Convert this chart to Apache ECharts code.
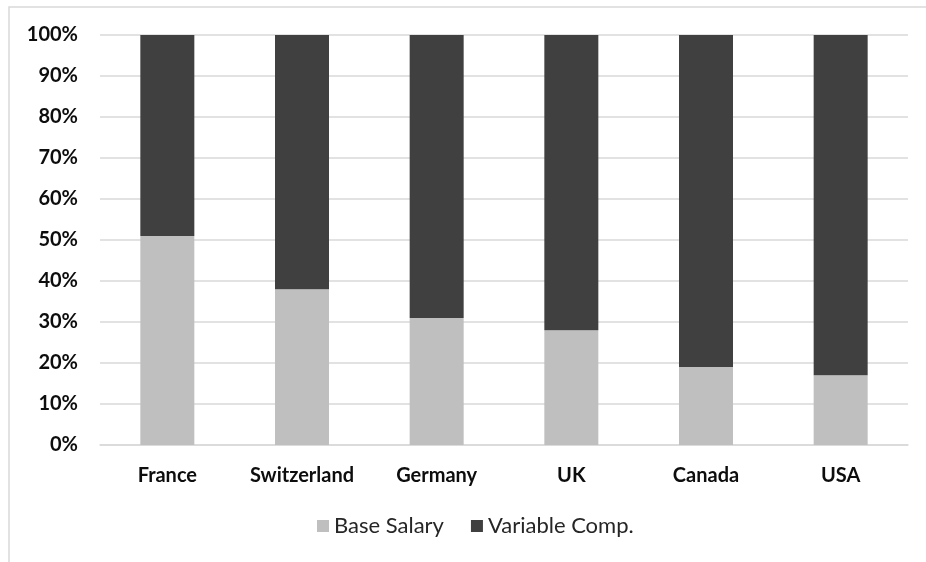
<!DOCTYPE html>
<html>
<head>
<meta charset="utf-8">
<script src="https://cdn.jsdelivr.net/npm/echarts@6/dist/echarts.min.js"></script>
<style>
  html, body { margin: 0; padding: 0; background: #ffffff; }
  #chart { width: 926px; height: 562px; }
</style>
</head>
<body>
<div id="chart"></div>
<script>
// Share of total compensation by country (percent)
const countries = ['France', 'Switzerland', 'Germany', 'UK', 'Canada', 'USA'];
const baseSalary = [51, 38, 31, 28, 19, 17];
const variableComp = [49, 62, 69, 72, 81, 83];
const yTicks = { min: 0, max: 100, step: 10 };

const FONT = 'Lato, "Open Sans", "DejaVu Sans", sans-serif';

const chart = echarts.init(document.getElementById('chart'));
chart.setOption({
  backgroundColor: '#ffffff',
  animation: false,
  graphic: [{
    type: 'rect',
    shape: { x: 9, y: 7, width: 960, height: 600 },
    style: { fill: 'none', stroke: '#d9d9d9', lineWidth: 1.5 },
    silent: true
  }],
  grid: { left: 100, right: 18, top: 35, bottom: 117, containLabel: false },
  legend: {
    data: ['Base Salary', 'Variable Comp.'],
    bottom: 20,
    left: 312,
    itemWidth: 12,
    itemHeight: 12,
    itemGap: 27,
    icon: 'rect',
    textStyle: { fontFamily: FONT, fontSize: 22, color: '#262626' }
  },
  xAxis: {
    type: 'category',
    data: countries,
    axisTick: { show: false },
    axisLine: { show: true, lineStyle: { color: '#d9d9d9', width: 1.5 } },
    axisLabel: {
      interval: 0,
      fontFamily: FONT, fontSize: 20, fontWeight: 'bold', color: '#0d0d0d', margin: 21
    }
  },
  yAxis: {
    type: 'value',
    min: yTicks.min,
    max: yTicks.max,
    interval: yTicks.step,
    axisLine: { show: false },
    axisTick: { show: false },
    splitLine: { lineStyle: { color: '#d9d9d9', width: 1.5 } },
    axisLabel: {
      fontFamily: FONT, fontSize: 20, fontWeight: 'bold', color: '#0d0d0d', margin: 22,
      formatter: v => v + '%'
    }
  },
  series: [
    {
      name: 'Base Salary',
      type: 'bar',
      stack: 'total',
      barWidth: 54,
      itemStyle: { color: '#bfbfbf' },
      data: baseSalary
    },
    {
      name: 'Variable Comp.',
      type: 'bar',
      stack: 'total',
      barWidth: 54,
      itemStyle: { color: '#404040' },
      data: variableComp
    }
  ]
});
</script>
</body>
</html>
